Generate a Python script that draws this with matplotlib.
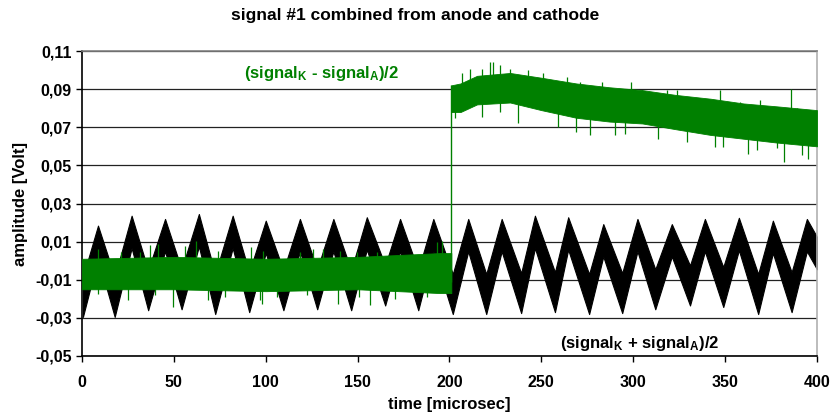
import matplotlib
matplotlib.use("Agg")
import matplotlib.pyplot as plt
import numpy as np
from matplotlib.ticker import FuncFormatter, MultipleLocator

plt.rcParams["font.family"] = ["Liberation Sans", "DejaVu Sans"]
plt.rcParams["font.weight"] = "bold"
plt.rcParams["mathtext.fontset"] = "custom"
plt.rcParams["mathtext.bf"] = "Liberation Sans:bold"
plt.rcParams["mathtext.rm"] = "Liberation Sans:bold"
plt.rcParams["mathtext.default"] = "bf"

# --- sum signal (black): peaks / troughs (time in microsec, volt)
black_peak_t = [8.7, 27.0, 45.2, 63.6, 82.0, 100.0, 118.6, 136.8, 155.0, 173.1, 191.2,
                210.2, 228.4, 246.5, 264.6, 283.7, 302.3, 321.0, 339.0, 357.5, 376.0, 394.5]
black_peak_hi = [0.0184, 0.0236, 0.0219, 0.0245, 0.0236, 0.0210, 0.0219, 0.0219, 0.0228, 0.0219, 0.0219,
                 0.0219, 0.0219, 0.0236, 0.0228, 0.0192, 0.0219, 0.0192, 0.0219, 0.0225, 0.0210, 0.0219]
black_trough_t = [0.5, 17.8, 36.0, 54.2, 72.5, 91.0, 109.6, 128.0, 146.5, 165.0, 183.0,
                  201.8, 220.0, 239.0, 257.4, 276.0, 294.0, 312.0, 330.9, 349.0, 368.0, 386.2]
black_trough_lo = [-0.0295, -0.0295, -0.0260, -0.0255, -0.0280, -0.0270, -0.0260, -0.0255, -0.0260, -0.0235, -0.0260,
                   -0.0280, -0.0280, -0.0275, -0.0270, -0.0280, -0.0275, -0.0255, -0.0235, -0.0243, -0.0280, -0.0270]
black_end_t = 400.0
black_end_v = 0.004
black_band = 0.017  # vertical thickness of the noisy trace

# --- difference signal (green): core band of the noise
green_left_t = [0, 50, 100, 150, 195, 201]
green_left_hi = [0.001, 0.002, 0.001, 0.002, 0.004, 0.004]
green_left_lo = [-0.015, -0.015, -0.016, -0.015, -0.017, -0.017]
green_right_t = [201, 206, 215, 233, 250, 269, 287, 305, 323, 342, 360, 378, 400]
green_right_hi = [0.092, 0.093, 0.097, 0.0985, 0.096, 0.093, 0.091, 0.0895, 0.087, 0.085, 0.0825, 0.081, 0.079]
green_right_lo = [0.078, 0.078, 0.082, 0.083, 0.079, 0.075, 0.073, 0.072, 0.069, 0.066, 0.064, 0.062, 0.060]

# single noise spikes sticking out of the green band
green_spike_t = [8.7, 21.4, 31.4, 36.8, 41.4, 55.9, 62.2, 74.0, 92.2, 98.7, 118.6, 125.9, 131.3,
                 140.4, 149.5, 160.4, 180.3, 193.0, 195.7,
                 8.7, 25.0, 39.5, 49.5, 68.6, 77.7, 96.7, 97.8, 106.0, 122.3, 139.5, 151.0,
                 156.7, 170.3, 187.6,
                 206.6, 211.2, 217.5, 222.0, 223.5, 227.5, 233.0, 243.0, 251.0, 263.8, 271.0,
                 282.8, 299.0, 305.0, 318.2, 323.6, 334.5, 347.0, 358.0, 369.0, 386.0, 389.0,
                 203.0, 217.5, 227.5, 237.5, 259.2, 269.0, 276.5, 290.0, 295.5, 313.5, 329.0,
                 344.5, 349.0, 362.5, 367.2, 378.0, 382.0, 391.7, 395.0]
green_spike_v = [0.0062, 0.0045, 0.0045, 0.0080, 0.0088, 0.0079, 0.0105, 0.0053, 0.0070, 0.0053, 0.0045,
                 0.0062, 0.0062, 0.0053, 0.0045, 0.0045, 0.0027, 0.0097, 0.0105,
                 -0.0173, -0.0208, -0.0180, -0.0243, -0.0208, -0.0191, -0.0208, -0.0225, -0.0191,
                 -0.0180, -0.0225, -0.0190, -0.0235, -0.0199, -0.0190,
                 0.0984, 0.1005, 0.1005, 0.1045, 0.1045, 0.1028, 0.1005, 0.1000, 0.0984, 0.0966,
                 0.0940, 0.0940, 0.0940, 0.0896, 0.0896, 0.0896, 0.0853, 0.0895, 0.0835, 0.0844,
                 0.0900, 0.0800,
                 0.0750, 0.0756, 0.0782, 0.0721, 0.0703, 0.0677, 0.0660, 0.0660, 0.0667, 0.0638,
                 0.0624, 0.0595, 0.0598, 0.0558, 0.0580, 0.0589, 0.0519, 0.0555, 0.0535]

y_ticks = [-0.05, -0.03, -0.01, 0.01, 0.03, 0.05, 0.07, 0.09, 0.11]

fig = plt.figure(figsize=(8.3, 4.15), dpi=100)
ax = fig.add_axes([0.0988, 0.1422, 0.8855, 0.7348])

# black trace: zigzag band through the read peaks and troughs
t_pts = np.array(black_trough_t + black_peak_t + [black_end_t])
hi_pts = np.array([v + black_band + 0.004 for v in black_trough_lo] + black_peak_hi + [black_end_v + black_band / 2])
lo_pts = np.array(black_trough_lo + [v - black_band for v in black_peak_hi] + [black_end_v - black_band / 2])
order = np.argsort(t_pts)
ax.fill_between(t_pts[order], lo_pts[order], hi_pts[order], color="black", lw=0.8,
                edgecolor="black", zorder=2)

# green trace
ax.fill_between(green_left_t, green_left_lo, green_left_hi, color="#008000", lw=0.6,
                edgecolor="#008000", zorder=3)
ax.fill_between(green_right_t, green_right_lo, green_right_hi, color="#008000", lw=0.6,
                edgecolor="#008000", zorder=3)
ax.vlines(green_right_t[0], green_left_lo[-1] + 0.006, green_right_hi[0], color="#008000",
          lw=1.0, zorder=3)
all_t = green_left_t[:-1] + green_right_t
all_mid = [(a + b) / 2 for a, b in zip(green_left_hi[:-1] + green_right_hi,
                                        green_left_lo[:-1] + green_right_lo)]
spike_base = np.interp(green_spike_t, all_t, all_mid)
ax.vlines(green_spike_t, spike_base, green_spike_v, color="#008000", lw=0.9, zorder=3)

ax.set_xlim(0, 400)
ax.set_ylim(-0.05, 0.11)
ax.xaxis.set_major_locator(MultipleLocator(50))
ax.set_yticks(y_ticks)
ax.yaxis.set_major_formatter(FuncFormatter(lambda v, _: f"{v:.2f}".replace(".", ",")))
ax.grid(axis="y", color="#222222", lw=0.9, zorder=1)
ax.set_axisbelow(True)
ax.tick_params(axis="both", direction="out", length=4, width=1, labelsize=11.5, colors="black")
ax.tick_params(axis="x", pad=10)
for lab in ax.get_xticklabels() + ax.get_yticklabels():
    lab.set_fontweight("bold")

ax.spines["left"].set_color("black")
ax.spines["bottom"].set_color("black")
ax.spines["top"].set_color("#808080")
ax.spines["right"].set_color("#b0b0b0")
for s in ax.spines.values():
    s.set_linewidth(1.2)

ax.set_xlabel("time [microsec]", fontsize=12, fontweight="bold", labelpad=5)
ax.set_ylabel("amplitude [Volt]", fontsize=12, fontweight="bold", labelpad=5)
fig.suptitle("signal #1 combined from anode and cathode", fontsize=12.5, fontweight="bold",
             x=0.5, y=0.98)

ax.text(130.6, 0.0984, r"(signal$_{K}$ - signal$_{A}$)/2", color="#008000", fontsize=12,
        fontweight="bold", ha="center", va="center", zorder=5)
ax.text(303.7, -0.0437, r"(signal$_{K}$ + signal$_{A}$)/2", color="black", fontsize=12,
        fontweight="bold", ha="center", va="center", zorder=5)

fig.savefig("out.png", dpi=100)
